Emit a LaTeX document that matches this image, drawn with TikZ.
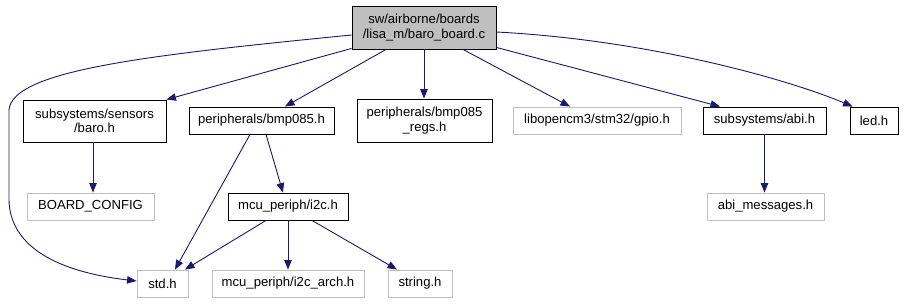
\documentclass[tikz,border=0pt]{standalone}
\usepackage{fontspec}
\setmainfont{Liberation Sans}
\usetikzlibrary{arrows.meta}
\definecolor{edgeblue}{HTML}{191970}
\definecolor{lightframe}{HTML}{BFBFBF}
\definecolor{rootfill}{HTML}{BFBFBF}
\tikzset{
  hdr/.style={draw=black, line width=0.9pt, fill=white, inner sep=0pt, align=center,
    font=\fontsize{13.1}{14.5}\selectfont},
  hdrgray/.style={hdr, draw=lightframe},
  hdrroot/.style={hdr, fill=rootfill},
  dep/.style={draw=edgeblue, line width=0.9pt, -{Triangle[length=9.5pt,width=7.5pt]}}
}
\begin{document}
\begin{tikzpicture}[x=1pt,y=-1pt]
\useasboundingbox (0,0) rectangle (904,304);

% header nodes
\node[hdrroot, minimum width=144pt, minimum height=43pt] (root) at (424,27.5)
  {sw/airborne/boards\\/lisa\_m/baro\_board.c};
\node[hdr, minimum width=143pt, minimum height=42pt] (baro) at (94.5,121)
  {subsystems/sensors\\/baro.h};
\node[hdr, minimum width=145pt, minimum height=27pt] (bmp) at (261.5,120.5)
  {peripherals/bmp085.h};
\node[hdr, minimum width=135pt, minimum height=43pt] (regs) at (424.5,120.5)
  {peripherals/bmp085\\\_regs.h};
\node[hdrgray, minimum width=168pt, minimum height=27pt] (gpio) at (597,120.5)
  {libopencm3/stm32/gpio.h};
\node[hdr, minimum width=123pt, minimum height=27pt] (abi) at (764.5,120.5)
  {subsystems/abi.h};
\node[hdr, minimum width=48pt, minimum height=27pt] (led) at (874,120.5)
  {led.h};
\node[hdrgray, minimum width=127pt, minimum height=27pt] (board) at (90.5,206.5)
  {BOARD\_CONFIG};
\node[hdr, minimum width=120pt, minimum height=27pt] (i2c) at (288,206.5)
  {mcu\_periph/i2c.h};
\node[hdrgray, minimum width=117pt, minimum height=27pt] (abimsg) at (765.5,206.5)
  {abi\_messages.h};
\node[hdrgray, minimum width=51pt, minimum height=27pt] (std) at (162.5,283.5)
  {std.h};
\node[hdrgray, minimum width=152pt, minimum height=27pt] (arch) at (288,283.5)
  {mcu\_periph/i2c\_arch.h};
\node[hdrgray, minimum width=64pt, minimum height=27pt] (string) at (420,283.5)
  {string.h};

% include dependencies
\draw[dep] ([yshift=1pt]root.south west) -- (baro.north east);
\draw[dep] ([xshift=-38pt]root.south) -- ([xshift=23.5pt]bmp.north);
\draw[dep] (root.south) -- (root.south |- regs.north);
\draw[dep] ([xshift=39pt]root.south) -- ([xshift=-27pt]gpio.north);
\draw[dep] ([yshift=2pt]root.south east) -- ([xshift=-44.5pt]abi.north);
\draw[dep] ([yshift=-4.5pt]root.east) .. controls (650,40) and (790,80) .. ([xshift=3pt]led.north west);
\draw[dep] ([yshift=-7.5pt]root.west) .. controls (150,55) and (12,70) .. (9,110)
  -- (9,200) .. controls (10,248) and (60,272) .. ([yshift=2.5pt]std.west);
\draw[dep] ([xshift=-1.5pt]baro.south) -- ([xshift=2.5pt]board.north);
\draw[dep] ([xshift=-11.5pt]bmp.south) -- ([xshift=12.5pt]std.north);
\draw[dep] ([xshift=4.5pt]bmp.south) -- ([xshift=-5pt]i2c.north);
\draw[dep] ([xshift=-22pt]i2c.south) -- ([xshift=22.5pt]std.north);
\draw[dep] (i2c.south) -- (arch.north);
\draw[dep] ([xshift=24pt]i2c.south) -- ([xshift=-23pt]string.north);
\draw[dep] (abi.south) -- (abi.south |- abimsg.north);
\end{tikzpicture}
\end{document}
